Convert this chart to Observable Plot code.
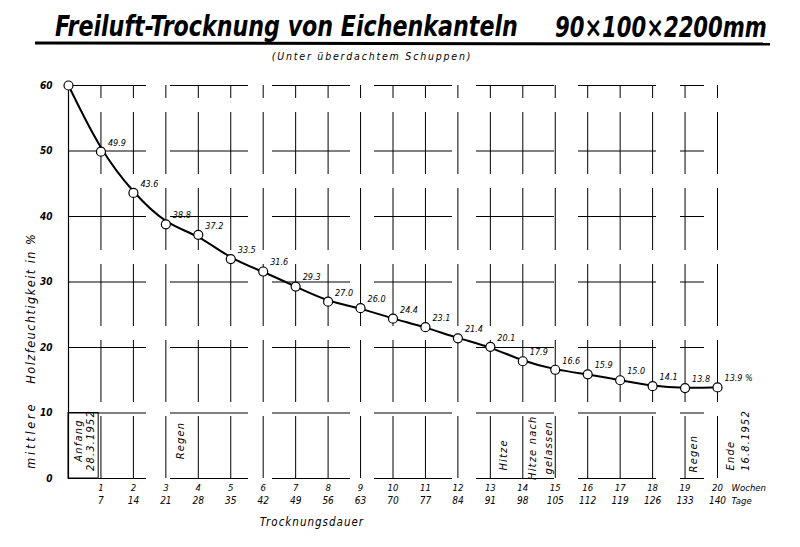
<!DOCTYPE html>
<html><head><meta charset="utf-8">
<script src="https://cdn.jsdelivr.net/npm/d3@7"></script>
<script src="https://cdn.jsdelivr.net/npm/@observablehq/plot@0.6"></script>
<style>
body{margin:0;background:#fff;}
svg{display:block}
</style></head><body>
<svg id="head" width="800" height="66">
 <text id="t1" font-family="DejaVu Sans Condensed" font-style="italic" font-weight="bold" font-size="29">Freiluft-Trocknung von Eichenkanteln</text>
 <text id="t2" font-family="DejaVu Sans Condensed" font-style="italic" font-weight="bold" font-size="29">90×100×2200mm</text>
 <line x1="35" y1="43" x2="770" y2="44" stroke="#000" stroke-width="3"/>
 <text x="372" y="60" text-anchor="middle" font-family="DejaVu Sans Condensed" font-size="10.5" font-style="italic" letter-spacing="1.8">(Unter überdachtem Schuppen)</text>
</svg>
<div id="chart"></div>
<script>
// Data
const weeks = [0,1,2,3,4,5,6,7,8,9,10,11,12,13,14,15,16,17,18,19,20];
const moisture = [60,49.9,43.6,38.8,37.2,33.5,31.6,29.3,27.0,26.0,24.4,23.1,21.4,20.1,17.9,16.6,15.9,15.0,14.1,13.8,13.9];
const pointLabels = ["","49.9","43.6","38.8","37.2","33.5","31.6","29.3","27.0","26.0","24.4","23.1","21.4","20.1","17.9","16.6","15.9","15.0","14.1","13.8","13.9 %"];
const weekTicks = [1,2,3,4,5,6,7,8,9,10,11,12,13,14,15,16,17,18,19,20];
const dayTicks = [7,14,21,28,35,42,49,56,63,70,77,84,91,98,105,112,119,126,133,140];
const yTicks = [0,10,20,30,40,50,60];
const gridWeeks = [1,2,3,4,5,6,7,8,9,10,11,12,13,14,15,16,17,18,19,20];
const gridValues = [0,10,20,30,40,50,60];
const notes = [
  {week:0.31, value:5.8, text:"Anfang"},
  {week:0.68, value:5.8, text:"28.3.1952"},
  {week:3.45, value:5.8, text:"Regen"},
  {week:13.4, value:3.6, text:"Hitze"},
  {week:14.3, value:4.7, text:"Hitze nach"},
  {week:14.8, value:4.7, text:"gelassen"},
  {week:19.26, value:3.8, text:"Regen"},
  {week:20.4, value:3.5, text:"Ende"},
  {week:20.86, value:5.8, text:"16.8.1952"}
];

// fit title pieces to the reference widths
function fit(id, x, y, w) {
  const t = document.getElementById(id);
  const len = t.getComputedTextLength();
  t.setAttribute("transform", `translate(${x},${y}) scale(${w/len},1)`);
}
fit("t1", 55, 36, 463);
fit("t2", 555, 37, 212);

const data = weeks.map((w,i)=>({week:w, value:moisture[i], label:pointLabels[i]}));
const font = "DejaVu Sans Condensed";

const chart = Plot.plot({
  width: 800, height: 481,
  marginLeft: 68, marginRight: 83, marginTop: 19, marginBottom: 69,
  x: {domain:[0,20], axis:null},
  y: {domain:[0,60], axis:null},
  style: {fontFamily: font, fontStyle: "italic", background:"#fff", overflow:"visible"},
  marks: [
    Plot.ruleX(gridWeeks, {x:d=>d, y1:0, y2:60, stroke:"#000", strokeWidth:1, strokeDasharray:"62,14"}),
    Plot.ruleY(gridValues, {y:d=>d, x1:0, x2:19.6, stroke:"#000", strokeWidth:1, strokeDasharray:"78,24"}),
    Plot.ruleX([0], {y1:0, y2:60, stroke:"#000", strokeWidth:1.2}),
    Plot.rect([0], {x1:0, x2:0.93, y1:0, y2:10, stroke:"#000", fill:"none", strokeWidth:1}),
    Plot.line(data, {x:"week", y:"value", curve:"basis", stroke:"#000", strokeWidth:2}),
    Plot.dot(data, {x:"week", y:"value", r:4.5, stroke:"#000", fill:"#fff", strokeWidth:1.2}),
    Plot.text(data, {x:"week", y:"value", text:"label", dx:7, dy:-9, textAnchor:"start", fontSize:9, fill:"#000"}),
    Plot.text(yTicks, {x:0, y:d=>d, text:d=>String(d), dx:-16, textAnchor:"end", fontSize:10, fontWeight:"bold", fill:"#000"}),
    Plot.text(weekTicks, {x:d=>d, y:0, dy:9, text:d=>String(d), fontSize:9.5, fill:"#000"}),
    Plot.text(dayTicks, {x:(d,i)=>weekTicks[i], y:0, dy:22, text:d=>String(d), fontSize:10, fill:"#000"}),
    Plot.text(["Wochen"], {x:20, y:0, dx:14, dy:9, textAnchor:"start", fontSize:9.5, fill:"#000"}),
    Plot.text(["Tage"], {x:20, y:0, dx:14, dy:22, textAnchor:"start", fontSize:9.5, fill:"#000"}),
    Plot.text(notes, {x:"week", y:"value", text:"text", rotate:-90, fontSize:11, fill:"#000", ariaDescription:"notes"}),
    Plot.text(["mittlere"], {x:-1.17, y:6.6, rotate:-90, fontSize:12.5, fill:"#000", ariaDescription:"ytitle1"}),
    Plot.text(["Holzfeuchtigkeit in %"], {x:-1.17, y:26.0, rotate:-90, fontSize:12.5, fill:"#000", ariaDescription:"ytitle2"}),
    Plot.text(["Trocknungsdauer"], {x:7.5, y:0, dy:44, fontSize:11.5, fill:"#000", ariaDescription:"xtitle"})
  ]
});
document.getElementById("chart").appendChild(chart);
d3.select(chart).selectAll('g[aria-description="ytitle1"] text').attr("letter-spacing", 2.8);
d3.select(chart).selectAll('g[aria-description="ytitle2"] text').attr("letter-spacing", 1.5);
d3.select(chart).selectAll('g[aria-description="xtitle"] text').attr("letter-spacing", 1);
d3.select(chart).selectAll('g[aria-description="notes"] text').attr("letter-spacing", 1.2);
</script>
</body></html>
